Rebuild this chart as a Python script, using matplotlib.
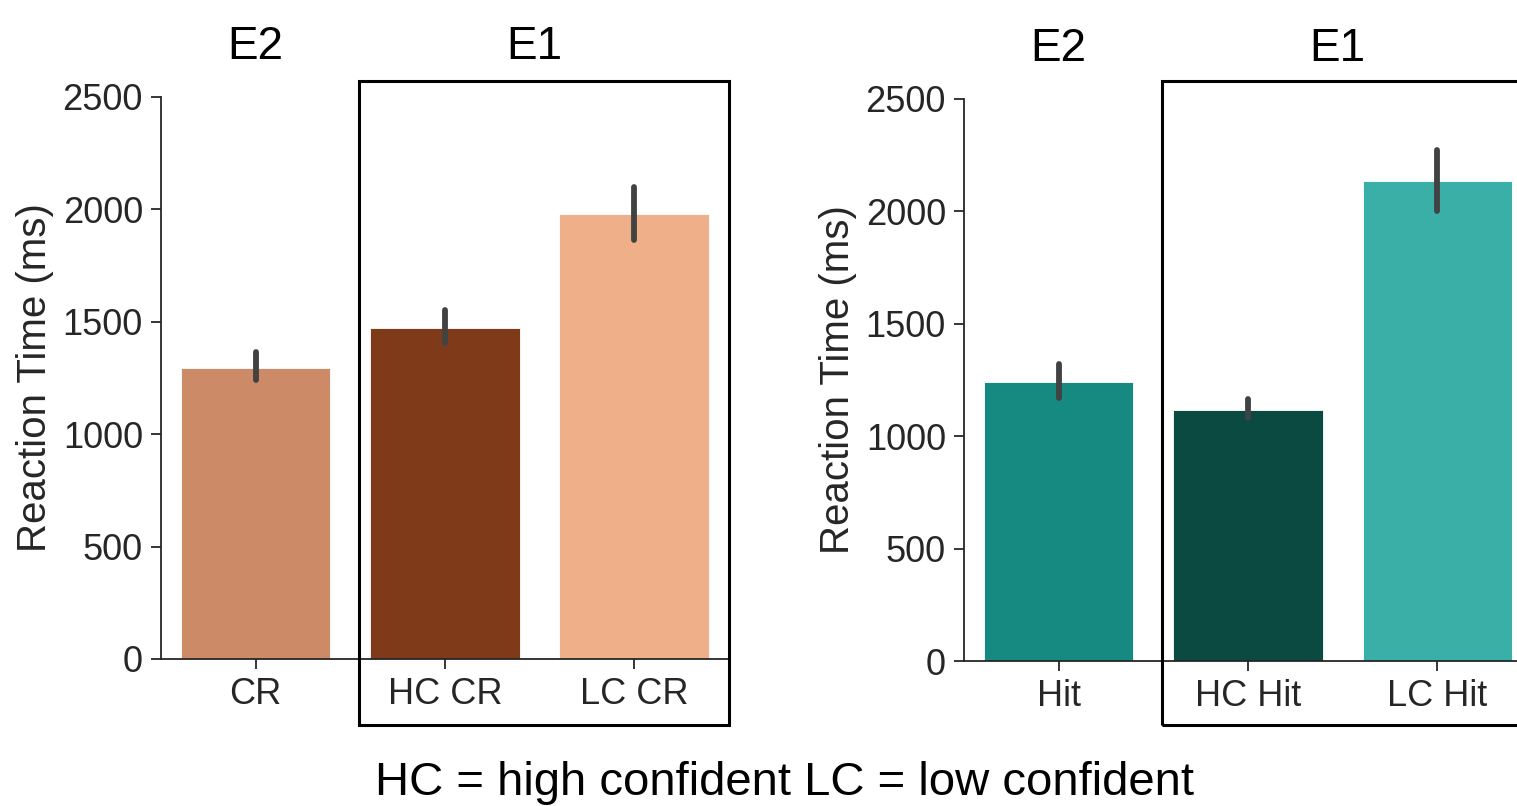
import matplotlib
matplotlib.use("Agg")
import matplotlib.pyplot as plt
import matplotlib.transforms as mtransforms
from matplotlib.patches import Rectangle

plt.rcParams['font.family'] = ['Liberation Sans', 'DejaVu Sans']

# data
cr_labels = ['CR', 'HC CR', 'LC CR']
cr_means = [1294, 1472, 1979]
cr_lo = [1241, 1406, 1864]
cr_hi = [1366, 1552, 2100]
cr_colors = ['#CD8A66', '#7F3B19', '#EEAF89']

hit_labels = ['Hit', 'HC Hit', 'LC Hit']
hit_means = [1241, 1117, 2135]
hit_lo = [1170, 1081, 2002]
hit_hi = [1321, 1165, 2273]
hit_colors = ['#168A80', '#0B4A41', '#3AAFA7']

group_titles = ['E2', 'E1']
note = 'HC = high confident LC = low confident'

fig = plt.figure(figsize=(15.17, 8.06), dpi=100)
ax1 = fig.add_axes([0.1061, 0.1824, 0.3744, 0.6973])
ax2 = fig.add_axes([0.6355, 0.1799, 0.3744, 0.6973])


def draw_panel(ax, labels, means, lo, hi, colors, box_top, box_bottom):
    x = list(range(len(labels)))
    ax.bar(x, means, width=0.79, color=colors, edgecolor='white', linewidth=0.6, zorder=2)
    for xi, l, h in zip(x, lo, hi):
        ax.plot([xi, xi], [l, h], color='#424242', lw=4.2, solid_capstyle='round', zorder=3)
    ax.set_xlim(-0.5, 2.5)
    ax.set_ylim(0, 2500)
    ax.set_yticks([0, 500, 1000, 1500, 2000, 2500])
    ax.set_xticks(x)
    ax.set_xticklabels(labels)
    for s in ['top', 'right']:
        ax.spines[s].set_visible(False)
    for s in ['left', 'bottom']:
        ax.spines[s].set_color('#262626')
        ax.spines[s].set_linewidth(1.3)
    ax.tick_params(axis='both', labelsize=26, colors='#262626', labelcolor='#262626',
                   width=1.3, length=7, pad=6)
    ax.set_ylabel('Reaction Time (ms)', fontsize=29, color='#262626', labelpad=6)

    trans = mtransforms.blended_transform_factory(ax.transData, ax.transAxes)
    ax.text(0, 1.068, group_titles[0], transform=trans, ha='center', va='baseline',
            fontsize=33, color='black')
    ax.text(1.47, 1.068, group_titles[1], transform=trans, ha='center', va='baseline',
            fontsize=33, color='black')
    box = Rectangle((0.545, box_bottom), 1.955, box_top - box_bottom, transform=trans,
                    fill=False, edgecolor='black', linewidth=2.2, clip_on=False, zorder=5)
    ax.add_patch(box)


draw_panel(ax1, cr_labels, cr_means, cr_lo, cr_hi, cr_colors, 1.028, -0.117)
draw_panel(ax2, hit_labels, hit_means, hit_lo, hit_hi, hit_colors, 1.032, -0.114)

fig.text(0.517, 0.0136, note, ha='center', va='baseline', fontsize=34, color='black')

fig.savefig('out.png', dpi=100)
